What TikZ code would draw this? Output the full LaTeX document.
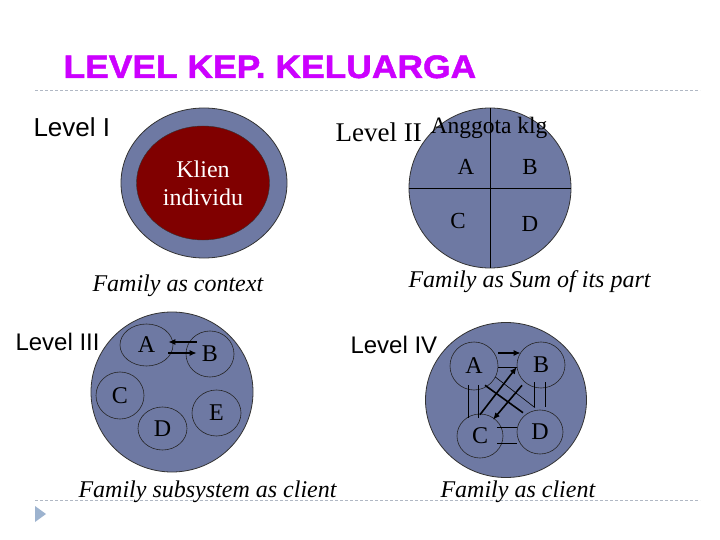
\documentclass[tikz,border=0pt]{standalone}
\usepackage{fontspec}
\setmainfont{Liberation Serif}
\setsansfont{Liberation Sans}
\newfontfamily\titlefont[FakeStretch=1.09,FakeBold=1.5]{Liberation Sans}
\usetikzlibrary{shapes.geometric,arrows.meta}
\definecolor{slate}{RGB}{110,121,163}
\definecolor{kliencol}{RGB}{128,0,0}
\definecolor{titlecol}{RGB}{204,0,255}
\definecolor{sepcol}{RGB}{176,184,196}
\definecolor{bulletcol}{RGB}{157,179,207}

\begin{document}
\begin{tikzpicture}[x=1pt,y=-1pt,
    disc/.style={draw=black!80,fill=slate,ellipse,inner sep=0pt,line width=0.8pt},
    sub/.style={draw=black!85,ellipse,inner sep=0pt,line width=0.6pt,font=\fontsize{24}{24}\selectfont},
    letter/.style={font=\fontsize{23}{23}\selectfont},
    lvl/.style={anchor=base west,font=\sffamily\fontsize{24}{24}\selectfont},
    captext/.style={anchor=base west,font=\itshape\fontsize{24}{24}\selectfont},
    arr/.style={-{Latex[length=7pt,width=6pt]},line width=1.6pt},
    bar/.style={line width=1.6pt},
    link/.style={line width=0.6pt},
    sepline/.style={draw=sepcol,line width=0.8pt,dash pattern=on 3pt off 2pt}]
    \fill[white] (0,0) rectangle (720,540);
    \useasboundingbox (0,0) rectangle (720,540);

    \node[anchor=base west,text=titlecol,font=\titlefont\bfseries\fontsize{32.5}{32.5}\selectfont] (title) at (60,78) {LEVEL KEP. KELUARGA};
    \draw[sepline] (35,90) -- (700,90);
    \draw[sepline] (35,500) -- (700,500);
    \fill[bulletcol] (35,506) -- (46,514) -- (35,522) -- cycle;

    \node[lvl,font=\sffamily\fontsize{26}{26}\selectfont] (lv1) at (30,137) {Level I};
    \node[disc,minimum width=166pt,minimum height=150pt] (o1) at (204,183) {};
    \node[ellipse,draw=black!80,fill=kliencol,inner sep=0pt,minimum width=133pt,minimum height=114pt,
        text=white,align=center,font=\fontsize{24}{28}\selectfont] (k1) at (203,183) {Klien\\individu};
    \node[captext] (t1) at (89,291) {Family as context};

    \node[disc,minimum width=162pt,minimum height=160pt] (c2) at (490,188) {};
    \draw[line width=0.8pt] (c2.north) -- (c2.south);
    \draw[line width=0.8pt] (c2.west) -- (c2.east);
    \node[anchor=base west,font=\fontsize{27}{27}\selectfont] (lv2) at (332,142) {Level II};
    \node[anchor=base west,font=\fontsize{23.5}{23.5}\selectfont] (ang) at (427,134) {Anggota klg};
    \node[letter] (a2) at (466,167) {A};
    \node[letter] (b2) at (530,167) {B};
    \node[letter] (c2l) at (458,221) {C};
    \node[letter] (d2) at (530,224) {D};
    \node[captext] (t2) at (405,287) {Family as Sum of its part};

    \node[lvl] (lv3) at (12,350) {Level III};
    \node[disc,minimum width=162pt,minimum height=160pt] (o3) at (172,392) {};
    \node[sub,minimum width=53pt,minimum height=42pt] (a3) at (146.5,345) {A};
    \node[sub,minimum width=48pt,minimum height=46pt] (b3) at (210,354) {B};
    \node[sub,minimum width=48pt,minimum height=47pt] (c3) at (120,395.5) {C};
    \node[sub,minimum width=49pt,minimum height=43pt] (d3) at (162.5,428.5) {D};
    \node[sub,minimum width=49pt,minimum height=46pt] (e3) at (216.5,413) {E};
    \draw[arr] ([shift={(11,-12)}]b3.west) -- ([shift={(-5,-3)}]a3.east);
    \draw[arr] ([shift={(-5,8)}]a3.east) -- ([shift={(11,-1)}]b3.west);
    \node[captext] (t3) at (75,497) {Family subsystem as client};

    \node[lvl] (lv4) at (347,353) {Level IV};
    \node[disc,minimum width=161pt,minimum height=155pt] (o4) at (506,400) {};
    \node[sub,minimum width=48pt,minimum height=48pt] (a4) at (474,366) {A};
    \node[sub,minimum width=48pt,minimum height=46pt] (b4) at (541,365) {B};
    \node[sub,minimum width=46pt,minimum height=44pt] (c4) at (480,436) {C};
    \node[sub,minimum width=46pt,minimum height=44pt] (d4) at (540,432) {D};
    \draw[arr] ([shift={(0,-13)}]a4.east) -- ([shift={(4,-12)}]b4.west);
    \draw[link] ([shift={(0,1)}]a4.east) -- ([shift={(0,2)}]b4.west);
    \draw[link] ([shift={(-6,-5)}]a4.south) -- ([shift={(-12,4)}]c4.north);
    \draw[link] ([shift={(4,-5)}]a4.south) -- ([shift={(-2,4)}]c4.north);
    \draw[link] ([shift={(-7,-6)}]b4.south) -- ([shift={(-6,-3)}]d4.north);
    \draw[link] ([shift={(4,-6)}]b4.south) -- ([shift={(5,-3)}]d4.north);
    \draw[link] ([shift={(-6,-9)}]c4.east) -- ([shift={(0,-5)}]d4.west);
    \draw[link] ([shift={(-6,7)}]c4.east) -- ([shift={(0,11)}]d4.west);
    \draw[arr] ([shift={(0,1)}]c4.north) -- ([shift={(0,2)}]b4.west);
    \draw[arr] ([shift={(-19,-3)}]b4.south) -- ([shift={(13,6)}]c4.north);
    \draw[bar] ([shift={(11,-5)}]a4.south) -- ([shift={(-17,3)}]d4.north);
    \draw[link] ([shift={(-3,11)}]a4.east) -- ([shift={(-5,-2)}]d4.north);
    \node[captext] (t4) at (437,497) {Family as client};
\end{tikzpicture}
\end{document}
